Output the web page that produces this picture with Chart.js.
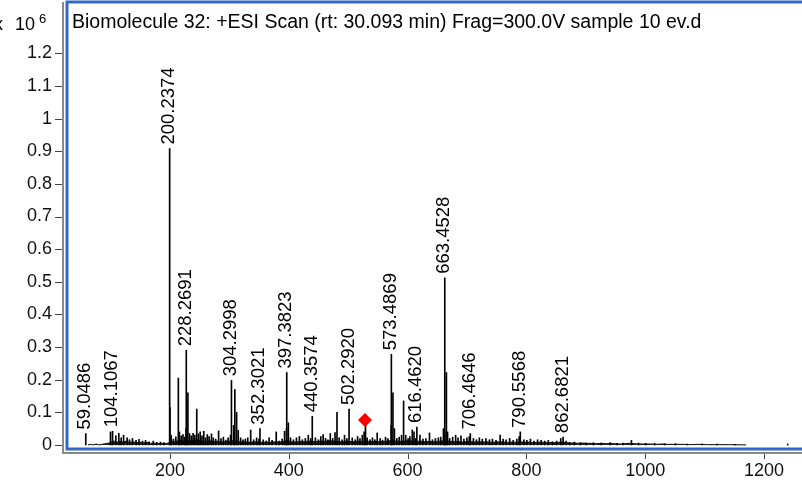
<!DOCTYPE html>
<html>
<head>
<meta charset="utf-8">
<title>Biomolecule 32 ESI scan</title>
<script src="https://cdn.jsdelivr.net/npm/chart.js@4/dist/chart.umd.min.js"></script>
<style>
  html, body { margin: 0; padding: 0; background: #fff; overflow: hidden; }
  #wrap { width: 802px; height: 488px; }
</style>
</head>
<body>
<div id="wrap"><canvas id="spectrum" width="802" height="488"></canvas></div>
<script>
// axis ticks (intensity is shown in units of 10^6 counts)
const xTicks = [200, 400, 600, 800, 1000, 1200];
const yTicks = [0, 0.1, 0.2, 0.3, 0.4, 0.5, 0.6, 0.7, 0.8, 0.9, 1, 1.1, 1.2];

// annotated peaks: m/z and intensity (x10^6)
const labelMz = [59.0486, 104.1067, 200.2374, 228.2691, 304.2998, 352.3021, 397.3823, 440.3574,
                 502.2920, 573.4869, 616.4620, 663.4528, 706.4646, 790.5568, 862.6821];
const labelInt = [0.035, 0.042, 0.908, 0.29, 0.198, 0.05, 0.222, 0.088,
                  0.11, 0.278, 0.055, 0.512, 0.035, 0.04, 0.024];

// unlabelled peaks [m/z, intensity]
const minorPeaks = [
  [99, 0.04], [108, 0.028], [113, 0.036], [117, 0.022], [121, 0.03], [127, 0.022], [131, 0.016],
  [136, 0.02], [142, 0.014], [147, 0.017], [153, 0.012], [158, 0.014], [164, 0.01], [171, 0.012],
  [177, 0.008], [183, 0.009], [189, 0.007], [199.2, 0.115], [201.2, 0.03], [205, 0.018], [209, 0.025],
  [213.2, 0.205], [215, 0.04], [218, 0.028], [221, 0.032], [224, 0.024], [226.3, 0.05], [229.3, 0.16],
  [232, 0.035], [235, 0.028], [238, 0.036], [241, 0.03], [244.2, 0.11], [247, 0.034], [250, 0.04],
  [253, 0.028], [256, 0.042], [259, 0.022], [262, 0.032], [265, 0.026], [269, 0.034], [272, 0.022],
  [276, 0.018], [281, 0.043], [285, 0.02], [289, 0.024], [293, 0.015], [297, 0.022], [301, 0.03],
  [306.3, 0.06], [308.3, 0.17], [311.3, 0.1], [314, 0.045], [318, 0.022], [322, 0.016], [326, 0.018],
  [330, 0.022], [335, 0.046], [340, 0.016], [345, 0.022], [349, 0.018], [356, 0.016], [361, 0.012],
  [366, 0.022], [371, 0.014], [378, 0.04], [383, 0.012], [388, 0.018], [392, 0.042], [395.3, 0.05],
  [398.4, 0.068], [402, 0.022], [407, 0.016], [412, 0.022], [417, 0.026], [422, 0.016], [427, 0.02],
  [432, 0.03], [436, 0.02], [444, 0.022], [449, 0.016], [453, 0.026], [457, 0.032], [461, 0.02],
  [465, 0.016], [469, 0.035], [473, 0.02], [477, 0.038], [480.3, 0.1], [484, 0.022], [489, 0.016],
  [493, 0.03], [497, 0.02], [506, 0.022], [511, 0.016], [515, 0.026], [519, 0.02], [523, 0.03],
  [526, 0.04], [528.3, 0.07], [531, 0.022], [536, 0.016], [540, 0.022], [544, 0.016], [548, 0.037],
  [553, 0.02], [557, 0.015], [562, 0.024], [566, 0.02], [571.5, 0.06], [574.5, 0.16], [577, 0.05],
  [581, 0.02], [585, 0.024], [589, 0.03], [592.4, 0.135], [596, 0.03], [600, 0.02], [603, 0.026],
  [607, 0.046], [610, 0.04], [613, 0.02], [620, 0.03], [625, 0.018], [630, 0.02], [636, 0.037],
  [641, 0.016], [646, 0.02], [651, 0.022], [655, 0.024], [659.5, 0.05], [661.5, 0.04], [664.5, 0.222],
  [666.5, 0.04], [670, 0.02], [675, 0.024], [680, 0.03], [684, 0.022], [689, 0.028], [694, 0.018],
  [699, 0.022], [703, 0.026], [710, 0.02], [715, 0.016], [720, 0.022], [725, 0.018], [731, 0.02],
  [737, 0.016], [742, 0.018], [748, 0.014], [755, 0.03], [760, 0.018], [765, 0.016], [771, 0.02],
  [777, 0.014], [783, 0.018], [787, 0.026], [795, 0.016], [800, 0.014], [806, 0.018], [812, 0.012],
  [818, 0.016], [824, 0.014], [830, 0.012], [836, 0.014], [843, 0.01], [850, 0.012], [857, 0.02],
  [866, 0.012], [872, 0.008], [880, 0.009], [890, 0.007], [900, 0.006], [912, 0.007], [925, 0.006],
  [940, 0.007], [952, 0.005], [962, 0.006], [976, 0.014], [988, 0.006], [1000, 0.005], [1015, 0.005],
  [1032, 0.004], [1050, 0.004], [1070, 0.003], [1095, 0.003], [1120, 0.003], [1150, 0.002], [1239, 0.003]
];

// chemical noise floor [m/z, intensity]
const noiseFloor = [
  [62, 0], [66, 0.002], [70, 0], [76, 0.003], [80, 0], [88, 0.003], [92, 0.004], [97, 0.006],
  [101, 0.009], [106, 0.012], [110, 0.008], [115, 0.011], [121, 0.009], [126, 0.012], [132, 0.008],
  [138, 0.01], [143, 0.007], [149, 0.009], [155, 0.006], [161, 0.008], [167, 0.005], [173, 0.006],
  [179, 0.004], [186, 0.005], [192, 0.004], [197, 0.006], [203, 0.012], [208, 0.01], [216, 0.014],
  [222, 0.012], [229, 0.015], [235, 0.013], [241, 0.016], [248, 0.014], [254, 0.012], [261, 0.011],
  [267, 0.013], [273, 0.01], [280, 0.012], [287, 0.009], [294, 0.011], [300, 0.012], [307, 0.014],
  [314, 0.011], [321, 0.009], [328, 0.01], [335, 0.008], [342, 0.01], [349, 0.009], [356, 0.008],
  [363, 0.009], [370, 0.008], [377, 0.01], [384, 0.009], [391, 0.011], [398, 0.013], [405, 0.01],
  [412, 0.009], [419, 0.011], [426, 0.01], [433, 0.012], [440, 0.011], [447, 0.01], [454, 0.012],
  [461, 0.011], [468, 0.013], [475, 0.012], [482, 0.011], [489, 0.01], [496, 0.012], [503, 0.011],
  [510, 0.01], [517, 0.012], [524, 0.011], [531, 0.012], [538, 0.01], [545, 0.011], [552, 0.01],
  [559, 0.011], [566, 0.012], [573, 0.014], [580, 0.012], [587, 0.011], [594, 0.012], [601, 0.013],
  [608, 0.012], [615, 0.011], [622, 0.012], [629, 0.01], [636, 0.011], [643, 0.01], [650, 0.011],
  [657, 0.012], [664, 0.014], [671, 0.011], [678, 0.01], [685, 0.011], [692, 0.009], [699, 0.01],
  [706, 0.011], [713, 0.009], [720, 0.01], [727, 0.009], [734, 0.01], [741, 0.008], [748, 0.009],
  [755, 0.01], [762, 0.009], [769, 0.008], [776, 0.009], [783, 0.008], [790, 0.01], [797, 0.008],
  [804, 0.009], [811, 0.007], [818, 0.008], [825, 0.009], [832, 0.007], [839, 0.008], [846, 0.007],
  [853, 0.008], [860, 0.009], [867, 0.007], [874, 0.006], [881, 0.006], [888, 0.005], [895, 0.006],
  [902, 0.005], [910, 0.005], [918, 0.004], [926, 0.005], [934, 0.004], [942, 0.004], [950, 0.004],
  [958, 0.003], [966, 0.004], [974, 0.005], [982, 0.004], [990, 0.003], [998, 0.003], [1008, 0.003],
  [1018, 0.002], [1028, 0.003], [1038, 0.002], [1050, 0.002], [1062, 0.002], [1075, 0.001],
  [1090, 0.002], [1105, 0.001], [1120, 0.001], [1140, 0.001], [1160, 0.0005], [1170, 0]
];

// precursor ion marker
const precursorMz = 528.3;
const precursorInt = 0.0766;

const titleText = 'Biomolecule 32: +ESI Scan (rt: 30.093 min) Frag=300.0V sample 10 ev.d';
const FONT = '"Liberation Sans", Arial, Helvetica, sans-serif';
const FRAME_BLUE = '#3468c8';
const AXIS_GRAY = '#8a8a8a';

const toXY = (pairs) => pairs.map(p => ({ x: p[0], y: p[1] }));

// keep the plot box fixed: no extra room for edge tick labels
const fixPadding = (scale) => {
  scale.paddingTop = 0;
  scale.paddingBottom = 0;
  scale.paddingLeft = 0;
  scale.paddingRight = 0;
};

// frame, gray axes, tick marks, rotated peak labels and the x10^6 caption
const decorations = {
  id: 'decorations',
  afterDatasetsDraw(chart) {
    const { ctx, chartArea: a, scales: { x, y } } = chart;
    ctx.save();

    // peak labels, reading upward from just above each peak top
    ctx.fillStyle = '#000';
    ctx.font = '18.5px ' + FONT;
    ctx.textAlign = 'left';
    ctx.textBaseline = 'alphabetic';
    labelMz.forEach((mz, i) => {
      const px = x.getPixelForValue(mz);
      const py = y.getPixelForValue(labelInt[i]);
      ctx.save();
      ctx.translate(px + 4, py - 4);
      ctx.rotate(-Math.PI / 2);
      ctx.fillText(mz.toFixed(4), 0, 0);
      ctx.restore();
    });

    // blue plot frame (right side runs past the canvas edge)
    ctx.strokeStyle = FRAME_BLUE;
    ctx.lineWidth = 3;
    ctx.strokeRect(a.left, a.top, a.right - a.left + 10, a.bottom - a.top);

    // gray axis lines set just outside the frame
    ctx.strokeStyle = AXIS_GRAY;
    ctx.lineWidth = 2;
    ctx.beginPath();
    ctx.moveTo(a.left - 4, a.top);
    ctx.lineTo(a.left - 4, a.bottom + 4);
    ctx.lineTo(chart.width, a.bottom + 4);
    ctx.stroke();

    ctx.strokeStyle = '#444';
    ctx.lineWidth = 1;
    ctx.beginPath();
    yTicks.forEach(v => {
      const py = Math.round(y.getPixelForValue(v)) + 0.5;
      ctx.moveTo(a.left - 12, py);
      ctx.lineTo(a.left - 5, py);
    });
    xTicks.forEach(v => {
      const px = Math.round(x.getPixelForValue(v)) + 0.5;
      ctx.moveTo(px, a.bottom + 5);
      ctx.lineTo(px, a.bottom + 10);
    });
    ctx.stroke();

    // title inside the frame
    ctx.fillStyle = '#000';
    ctx.font = '19.5px ' + FONT;
    ctx.textAlign = 'left';
    ctx.fillText(titleText, a.left + 5, 28);

    // intensity multiplier
    ctx.font = '18px ' + FONT;
    ctx.fillText('x', -6, 30);
    ctx.fillText('10', 15, 30);
    ctx.font = '13px ' + FONT;
    ctx.fillText('6', 39, 23);
    ctx.restore();
  }
};

new Chart(document.getElementById('spectrum'), {
  type: 'bar',
  data: {
    datasets: [
      {
        type: 'line',
        data: toXY(noiseFloor),
        borderColor: '#111',
        borderWidth: 1,
        backgroundColor: 'rgba(0,0,0,0.85)',
        fill: 'origin',
        pointRadius: 0,
        tension: 0,
        order: 3
      },
      {
        type: 'bar',
        data: toXY(minorPeaks),
        backgroundColor: '#000',
        barThickness: 1,
        order: 2
      },
      {
        type: 'bar',
        data: labelMz.map((mz, i) => ({ x: mz, y: labelInt[i] })),
        backgroundColor: '#000',
        barThickness: 1,
        order: 1
      },
      {
        type: 'scatter',
        data: [{ x: precursorMz, y: precursorInt }],
        pointStyle: 'rectRot',
        pointRadius: 7,
        backgroundColor: '#ff0000',
        borderColor: '#ff0000',
        borderWidth: 0,
        order: 0
      }
    ]
  },
  options: {
    responsive: false,
    animation: false,
    layout: { autoPadding: false, padding: { top: 2, right: 0, left: 0, bottom: 0 } },
    plugins: {
      legend: { display: false },
      tooltip: { enabled: false }
    },
    scales: {
      x: {
        type: 'linear',
        offset: false,
        min: 26.6,
        max: 1264,
        grid: { display: false, drawTicks: false },
        border: { display: false },
        ticks: {
          color: '#111',
          font: { family: FONT, size: 18 },
          padding: 11,
          maxRotation: 0,
          callback: (v) => String(v)
        },
        afterBuildTicks: (scale) => { scale.ticks = xTicks.map(v => ({ value: v })); },
        afterFit: (scale) => { scale.height = 39; fixPadding(scale); }
      },
      y: {
        type: 'linear',
        min: -0.0123,
        max: 1.3572,
        grid: { display: false, drawTicks: false },
        border: { display: false },
        ticks: {
          color: '#111',
          font: { family: FONT, size: 18 },
          padding: 15,
          callback: (v) => String(Math.round(v * 10) / 10)
        },
        afterBuildTicks: (scale) => { scale.ticks = yTicks.map(v => ({ value: v })); },
        afterFit: (scale) => { scale.width = 67; fixPadding(scale); }
      }
    }
  },
  plugins: [decorations]
});
</script>
</body>
</html>
